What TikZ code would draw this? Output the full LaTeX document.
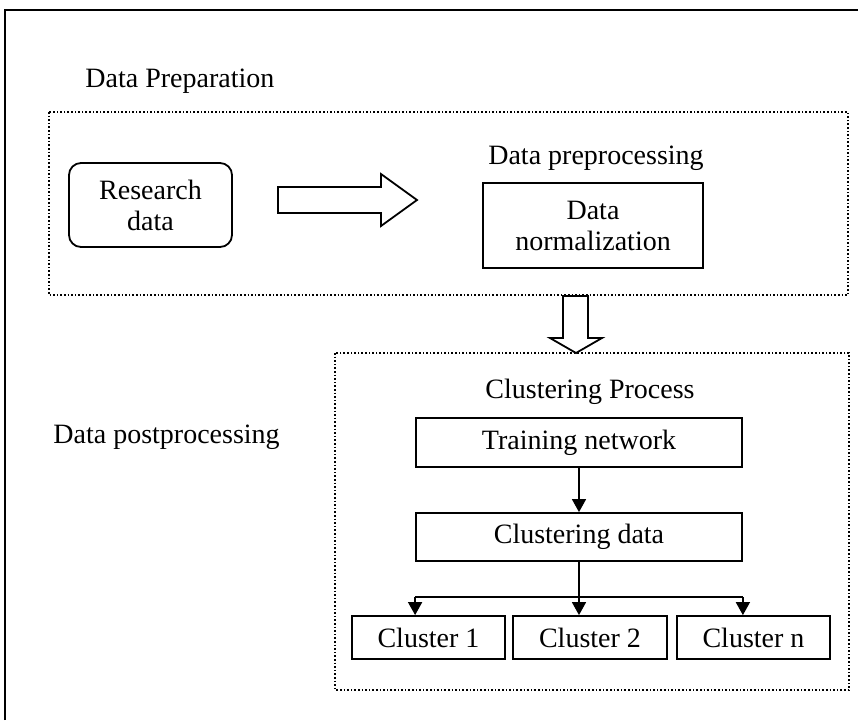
\documentclass[tikz,border=0pt]{standalone}
\usepackage{fontspec}
\setmainfont{Liberation Serif}
\usetikzlibrary{positioning, arrows.meta}

\begin{document}
\begin{tikzpicture}[
    x=0.5pt, y=-0.5pt,
    every node/.style={font=\fontsize{14}{15.5}\selectfont, inner sep=0pt},
    box/.style={draw, line width=0.9pt, align=center},
    group/.style={draw, densely dotted, line width=0.8pt},
    hollow/.style={draw, line width=0.9pt, fill=white},
    link/.style={draw, line width=0.8pt, -{Triangle[width=7pt,length=6.5pt]}},
    title/.style={anchor=west}
  ]
  \useasboundingbox (0,0) rectangle (858,720);
  \draw[line width=1pt] (5,720) -- (5,10) -- (858,10);
  \draw[group] (49,112) rectangle (848,295);
  \draw[group] (335,353) rectangle (849,690);

  \node[title] (prep) at (85,81) {Data Preparation};
  \node[box, rounded corners=6pt, minimum width=81.5pt, minimum height=42pt] (research) at (150.5,205) {Research\\data};
  \node (preproc) at (596,158) {Data preprocessing};
  \node[box, minimum width=110pt, minimum height=42.5pt] (norm) at (593,225.5) {Data\\normalization};

  \draw[hollow] (278,187) -- (381,187) -- (381,174) -- (417,200) -- (381,226) -- (381,213) -- (278,213) -- cycle;
  \draw[hollow] (563,296) -- (563,338) -- (550,338) -- (576,353) -- (602,338) -- (588,338) -- (588,296) -- cycle;

  \node (clproc) at (590,392) {Clustering Process};
  \node[title] (post) at (53,437) {Data postprocessing};
  \node[box, minimum width=163pt, minimum height=24.5pt] (train) at (579,442.5) {Training network};
  \node[box, minimum width=163pt, minimum height=24pt] (cldata) at (579,537) {Clustering data};
  \node[box, minimum width=76.5pt, minimum height=21.5pt] (c1) at (428.5,637.5) {Cluster 1};
  \node[box, minimum width=77pt, minimum height=21.5pt] (c2) at (590,637.5) {Cluster 2};
  \node[box, minimum width=76.5pt, minimum height=21.5pt] (cn) at (753.5,637.5) {Cluster n};

  \draw[link] (train) -- (cldata);
  \coordinate (split) at (cldata.south |- 0,597);
  \draw[line width=0.8pt] (cldata.west |- split) -- (cldata.east |- split);
  \draw[link] (cldata.south) -- (cldata.south |- c2.north);
  \draw[link] (split -| cldata.west) -- (c1.north -| cldata.west);
  \draw[link] (split -| cldata.east) -- (cn.north -| cldata.east);
\end{tikzpicture}
\end{document}
